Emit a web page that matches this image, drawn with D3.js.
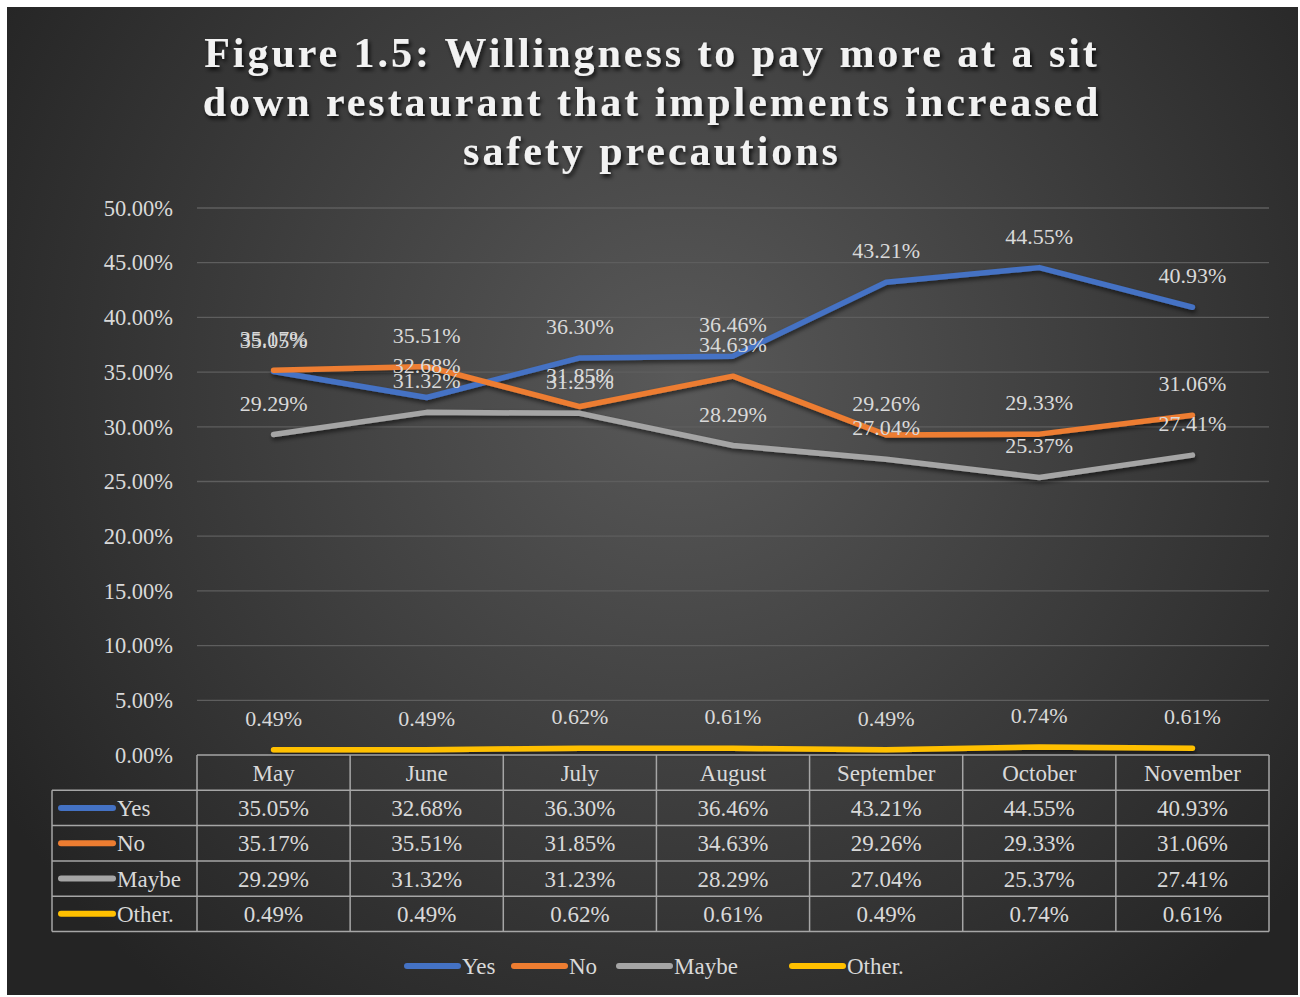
<!DOCTYPE html>
<html>
<head>
<meta charset="utf-8">
<script src="https://cdn.jsdelivr.net/npm/d3@7"></script>
<style>
  body { margin: 0; background: #fff; }
  svg { display: block; font-family: "Liberation Serif", "Times New Roman", serif; }
</style>
</head>
<body>
<div id="chart"></div>
<script>
// data
var months = ["May", "June", "July", "August", "September", "October", "November"];
var seriesNames = ["Yes", "No", "Maybe", "Other."];
var yesVals = [35.05, 32.68, 36.30, 36.46, 43.21, 44.55, 40.93];
var noVals = [35.17, 35.51, 31.85, 34.63, 29.26, 29.33, 31.06];
var maybeVals = [29.29, 31.32, 31.23, 28.29, 27.04, 25.37, 27.41];
var otherVals = [0.49, 0.49, 0.62, 0.61, 0.49, 0.74, 0.61];
var yTicks = [0, 5, 10, 15, 20, 25, 30, 35, 40, 45, 50];
var colors = ["#4472C4", "#ED7D31", "#A5A5A5", "#FFC000"];
var titleLines = ["Figure 1.5: Willingness to pay more at a sit",
                  "down restaurant that implements increased",
                  "safety precautions"];

var series = [yesVals, noVals, maybeVals, otherVals].map(function(v, i) {
    return {name: seriesNames[i], values: v, color: colors[i]};
});

var W = 1300, H = 997;
var plot = {left: 197, right: 1269, top: 208, bottom: 755};
var rowH = 35.3;
var tableLeft = 52;
var textColor = "#d9d9d9";

var svg = d3.select("#chart").append("svg")
    .attr("width", W)
    .attr("height", H);

var defs = svg.append("defs");
var grad = defs.append("radialGradient")
    .attr("id", "bg")
    .attr("gradientUnits", "userSpaceOnUse")
    .attr("cx", 680).attr("cy", 380).attr("r", 800);
grad.append("stop").attr("offset", "0%").attr("stop-color", "#595959");
grad.append("stop").attr("offset", "100%").attr("stop-color", "#242424");

var shadow = defs.append("filter").attr("id", "shadow")
    .attr("x", "-5%").attr("y", "-20%").attr("width", "110%").attr("height", "140%");
shadow.append("feDropShadow")
    .attr("dx", 1).attr("dy", 3).attr("stdDeviation", 2)
    .attr("flood-color", "#000").attr("flood-opacity", 0.55);

var tshadow = defs.append("filter").attr("id", "tshadow");
tshadow.append("feDropShadow")
    .attr("dx", 2).attr("dy", 3).attr("stdDeviation", 2)
    .attr("flood-color", "#000").attr("flood-opacity", 0.8);

svg.append("rect")
    .attr("x", 7).attr("y", 7)
    .attr("width", 1291).attr("height", 988)
    .attr("fill", "url(#bg)");

//title
svg.append("g")
    .attr("filter", "url(#tshadow)")
    .selectAll("text")
    .data(titleLines)
    .enter().append("text")
    .attr("x", 652)
    .attr("y", function(d, i) { return 67 + i * 49; })
    .attr("text-anchor", "middle")
    .attr("fill", "#f2f2f2")
    .attr("font-size", 42)
    .attr("font-weight", "bold")
    .attr("letter-spacing", 2.95)
    .text(function(d) { return d; });

//scales
var x = d3.scaleBand()
    .domain(months)
    .range([plot.left, plot.right]);

var y = d3.scaleLinear()
    .domain([0, 50])
    .range([plot.bottom, plot.top]);

//gridlines
svg.append("g")
    .selectAll("line")
    .data(yTicks.slice(1))
    .enter().append("line")
    .attr("x1", plot.left).attr("x2", plot.right)
    .attr("y1", function(d) { return y(d); })
    .attr("y2", function(d) { return y(d); })
    .attr("stroke", "#5e5e5e")
    .attr("stroke-width", 1.3);

//y axis
var yAxis = d3.axisLeft(y)
    .tickValues(yTicks)
    .tickSize(0)
    .tickPadding(24)
    .tickFormat(function(d) { return d.toFixed(2) + "%"; });

var yg = svg.append("g")
    .attr("transform", "translate(" + plot.left + ",0)")
    .call(yAxis);
yg.select(".domain").remove();
yg.selectAll("text")
    .attr("fill", textColor)
    .attr("font-size", 22.5)
    .attr("font-family", "Liberation Serif, serif");

//lines
var line = d3.line()
    .x(function(d, i) { return x(months[i]) + x.bandwidth() / 2; })
    .y(function(d) { return y(d); });

svg.append("g")
    .attr("filter", "url(#shadow)")
    .selectAll("path")
    .data(series)
    .enter().append("path")
    .attr("d", function(d) { return line(d.values); })
    .attr("fill", "none")
    .attr("stroke", function(d) { return d.color; })
    .attr("stroke-width", 5.5)
    .attr("stroke-linecap", "round")
    .attr("stroke-linejoin", "round");

//data labels (they overlap in places, as in the original)
series.forEach(function(s) {
    svg.append("g")
        .selectAll("text")
        .data(s.values)
        .enter().append("text")
        .attr("x", function(d, i) { return x(months[i]) + x.bandwidth() / 2; })
        .attr("y", function(d) { return y(d) - 24; })
        .attr("text-anchor", "middle")
        .attr("fill", textColor)
        .attr("font-size", 22)
        .text(function(d) { return d.toFixed(2) + "%"; });
});

//data table
var table = svg.append("g");
var tableStroke = "#a6a6a6";
var tableBottom = plot.bottom + rowH * 5;

table.append("line")
    .attr("x1", plot.left).attr("x2", plot.right)
    .attr("y1", plot.bottom).attr("y2", plot.bottom)
    .attr("stroke", tableStroke).attr("stroke-width", 1.5);

d3.range(1, 6).forEach(function(r) {
    table.append("line")
        .attr("x1", tableLeft).attr("x2", plot.right)
        .attr("y1", plot.bottom + r * rowH).attr("y2", plot.bottom + r * rowH)
        .attr("stroke", tableStroke).attr("stroke-width", 1.5);
});

table.append("line")
    .attr("x1", tableLeft).attr("x2", tableLeft)
    .attr("y1", plot.bottom + rowH).attr("y2", tableBottom)
    .attr("stroke", tableStroke).attr("stroke-width", 1.5);

table.selectAll("line.col")
    .data(months.concat(["end"]))
    .enter().append("line")
    .attr("class", "col")
    .attr("x1", function(d, i) { return plot.left + i * x.bandwidth(); })
    .attr("x2", function(d, i) { return plot.left + i * x.bandwidth(); })
    .attr("y1", plot.bottom)
    .attr("y2", tableBottom)
    .attr("stroke", tableStroke).attr("stroke-width", 1.5);

//month header
table.selectAll("text.month")
    .data(months)
    .enter().append("text")
    .attr("class", "month")
    .attr("x", function(d) { return x(d) + x.bandwidth() / 2; })
    .attr("y", plot.bottom + rowH / 2 + 8)
    .attr("text-anchor", "middle")
    .attr("fill", textColor)
    .attr("font-size", 23)
    .text(function(d) { return d; });

series.forEach(function(s, r) {
    var cy = plot.bottom + (r + 1) * rowH + rowH / 2;
    table.append("line")
        .attr("x1", 61).attr("x2", 113)
        .attr("y1", cy).attr("y2", cy)
        .attr("stroke", s.color)
        .attr("stroke-width", 6)
        .attr("stroke-linecap", "round");
    table.append("text")
        .attr("x", 117).attr("y", cy + 8)
        .attr("fill", textColor)
        .attr("font-size", 23)
        .text(s.name);
    table.selectAll("text.v" + r)
        .data(s.values)
        .enter().append("text")
        .attr("x", function(d, i) { return x(months[i]) + x.bandwidth() / 2; })
        .attr("y", cy + 8)
        .attr("text-anchor", "middle")
        .attr("fill", textColor)
        .attr("font-size", 23)
        .text(function(d) { return d.toFixed(2) + "%"; });
});

//legend
var legendX = [407, 514, 619, 792];
var legend = svg.append("g")
    .selectAll("g")
    .data(series)
    .enter().append("g")
    .attr("transform", function(d, i) { return "translate(" + legendX[i] + ",966)"; });

legend.append("line")
    .attr("x1", 0).attr("x2", 51)
    .attr("stroke", function(d) { return d.color; })
    .attr("stroke-width", 6)
    .attr("stroke-linecap", "round");

legend.append("text")
    .attr("x", 55).attr("y", 8)
    .attr("fill", textColor)
    .attr("font-size", 23)
    .text(function(d) { return d.name; });
</script>
</body>
</html>
